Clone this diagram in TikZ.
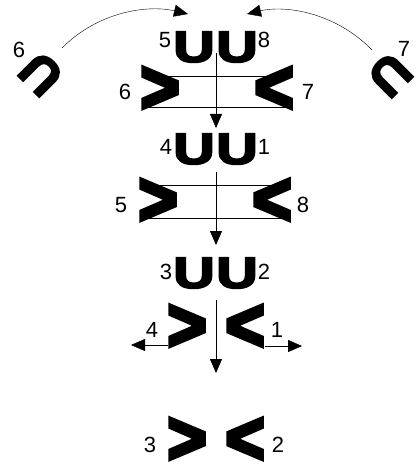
\documentclass[tikz,border=0pt]{standalone}
\usepackage{fontspec}
\setmainfont{Liberation Sans}
\newfontfamily\heavyfont[FakeBold=4]{Liberation Sans Bold}
\newfontfamily\chevfont[FakeBold=6]{Liberation Sans Bold}
\usetikzlibrary{arrows.meta}

\tikzset{
  cornerU/.style={font=\heavyfont\fontsize{50}{50}\selectfont, inner sep=0pt},
  bigU/.style={font=\heavyfont\fontsize{44}{44}\selectfont, inner sep=0pt, xscale=1.3},
  bigV/.style={font=\chevfont\fontsize{74}{74}\selectfont, inner sep=0pt, xscale=0.9},
  num/.style={font=\fontsize{22}{22}\selectfont, inner sep=0pt},
  tip/.style={-{Triangle[width=12pt,length=14pt]}}
}

\begin{document}
\begin{tikzpicture}[x=1pt,y=-1pt]
        \useasboundingbox (0,0) rectangle (416,468);

        \coordinate (A1) at (216,53);
        \coordinate (A2) at (216,128);
        \coordinate (B1) at (216,172);
        \coordinate (B2) at (216,245);
        \coordinate (C1) at (216,300);
        \coordinate (C2) at (216,373);

        \coordinate (L1) at (168,345);
        \coordinate (L2) at (131,345);
        \coordinate (R1) at (265,346);
        \coordinate (R2) at (302,346);

        \coordinate (S6) at (62,48);
        \coordinate (T6) at (188,14);
        \coordinate (S7) at (372,50);
        \coordinate (T7) at (247,14);

        \coordinate (P1) at (147,76);
        \coordinate (P2) at (285,76);
        \coordinate (P3) at (147,107);
        \coordinate (P4) at (285,107);
        \coordinate (Q1) at (143,185);
        \coordinate (Q2) at (287,185);
        \coordinate (Q3) at (143,218);
        \coordinate (Q4) at (287,218);

        \draw (P1) -- (P2);                      % felso doboz
        \draw (P3) -- (P4);
        \draw (Q1) -- (Q2);                      % also doboz
        \draw (Q3) -- (Q4);

        \node[cornerU, rotate=135] (K6) at (41,74) {U};   % bal
        \node[cornerU, rotate=-135] (K7) at (390,75) {U}; % jobb

        \node[bigU] (U5) at (194,47) {U};
        \node[bigU] (U8) at (237,47) {U};
        \node[bigU] (U4) at (194,149) {U};
        \node[bigU] (U1) at (237,149) {U};
        \node[bigU] (U3) at (194,273) {U};
        \node[bigU] (U2) at (237,273) {U};

        \node[bigV] (V6) at (160,90) {>};
        \node[bigV] (V7) at (274,90) {<};
        \node[bigV] (V5) at (158,202) {>};
        \node[bigV] (V8) at (272,202) {<};
        \node[bigV] (W4) at (187,328) {>};
        \node[bigV] (W1) at (245,328) {<};
        \node[bigV] (W3) at (187,441) {>};
        \node[bigV] (W2) at (245,441) {<};

        \draw[tip] (A1) -- (A2);
        \draw[tip] (B1) -- (B2);
        \draw[tip] (C1) -- (C2);
        \draw[tip] (L1) -- (L2);
        \draw[tip] (R1) -- (R2);

        \draw[tip] (S6) .. controls (100,10) and (150,5) .. (T6);
        \draw[tip] (S7) .. controls (335,12) and (285,5) .. (T7);

        \node[num] (n6a) at (19,50) {6};
        \node[num] (n7a) at (404,49) {7};
        \node[num] (n5a) at (165,40) {5};
        \node[num] (n8a) at (264,40) {8};
        \node[num] (n6b) at (125,92) {6};
        \node[num] (n7b) at (308,92) {7};
        \node[num] (n4a) at (166,147) {4};
        \node[num] (n1a) at (264,147) {1};
        \node[num] (n5b) at (121,205) {5};
        \node[num] (n8b) at (303,205) {8};
        \node[num] (n3a) at (166,272) {3};
        \node[num] (n2a) at (264,272) {2};
        \node[num] (n4b) at (152,330) {4};
        \node[num] (n1b) at (277,330) {1};
        \node[num] (n3b) at (150,445) {3};
        \node[num] (n2b) at (278,445) {2};

    \end{tikzpicture}
\end{document}
